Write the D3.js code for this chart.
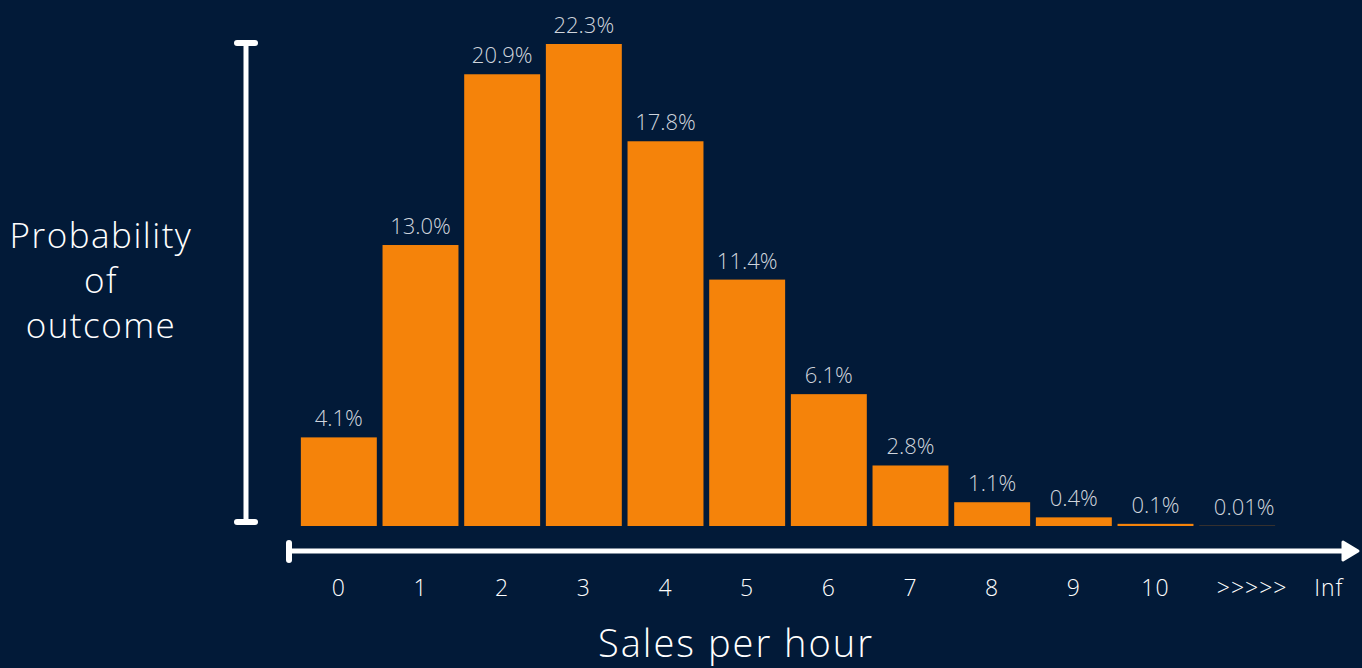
<!DOCTYPE html>
<html>
<head>
<meta charset="utf-8">
<script src="https://cdn.jsdelivr.net/npm/d3@7"></script>
<style>
  html, body { margin: 0; padding: 0; background: #021a38; }
  svg { display: block; }
</style>
</head>
<body>
<svg id="chart" width="1362" height="668"></svg>
<script>
// Poisson-style distribution of sales per hour
const categories = ["0", "1", "2", "3", "4", "5", "6", "7", "8", "9", "10", ">10"];
const probabilities = [4.1, 13.0, 20.9, 22.3, 17.8, 11.4, 6.1, 2.8, 1.1, 0.4, 0.1, 0.01];
const valueLabels = ["4.1%", "13.0%", "20.9%", "22.3%", "17.8%", "11.4%", "6.1%", "2.8%", "1.1%", "0.4%", "0.1%", "0.01%"];
const tickLabels = ["0", "1", "2", "3", "4", "5", "6", "7", "8", "9", "10", ">>>>>", "Inf"];
const yTitleLines = ["Probability", "of", "outcome"];
const xTitle = "Sales per hour";

const W = 1362, H = 668;
const bg = "#021a38", barColor = "#f5830a", labelColor = "#cfd4dc", axisColor = "#ffffff";
const handFont = "'Open Sans', 'DejaVu Sans', sans-serif";

const svg = d3.select("#chart");
svg.append("rect").attr("width", W).attr("height", H).attr("fill", bg);

const x = d3.scaleBand().domain(categories).range([298, 1278]).paddingInner(0.07).paddingOuter(0.035);
const y = d3.scaleLinear().domain([0, 22.3]).range([526, 44]);

// tick positions: numeric ticks sit under the bars, then the tail marker and infinity
const tickX = d3.scalePoint().domain(tickLabels).range([x("0") + x.bandwidth() / 2, x(">10") + x.bandwidth() / 2 + x.step()]);

// bars
svg.append("g").selectAll("rect").data(probabilities).join("rect")
  .attr("x", (d, i) => x(categories[i]))
  .attr("y", d => y(d))
  .attr("width", x.bandwidth())
  .attr("height", d => y(0) - y(d))
  .attr("fill", barColor);

// value labels
svg.append("g").selectAll("text").data(probabilities).join("text")
  .attr("x", (d, i) => x(categories[i]) + x.bandwidth() / 2 + (i === 11 ? 7 : 0))
  .attr("y", d => y(d) - 11)
  .attr("text-anchor", "middle")
  .attr("fill", labelColor)
  .attr("font-family", "'Open Sans', sans-serif")
  .attr("font-weight", 300)
  .attr("font-size", 22)
  .text((d, i) => valueLabels[i]);

// y axis: vertical bar with end caps
const yAxis = svg.append("g").attr("stroke", axisColor).attr("stroke-linecap", "round");
yAxis.append("line").attr("x1", 246).attr("x2", 246).attr("y1", y(22.3) - 1).attr("y2", y(0) - 4).attr("stroke-width", 5);
[y(22.3) - 1, y(0) - 4].forEach(yy => {
  yAxis.append("line").attr("x1", 237).attr("x2", 255).attr("y1", yy).attr("y2", yy).attr("stroke-width", 6);
});

// x axis: arrow from the left cap to infinity
const axY = 551;
const xAxis = svg.append("g");
xAxis.append("line").attr("x1", 289).attr("x2", 1346).attr("y1", axY).attr("y2", axY)
  .attr("stroke", axisColor).attr("stroke-width", 5);
xAxis.append("line").attr("x1", 289).attr("x2", 289).attr("y1", axY - 8).attr("y2", axY + 9)
  .attr("stroke", axisColor).attr("stroke-width", 6).attr("stroke-linecap", "round");
xAxis.append("path")
  .attr("d", `M1343,${axY - 9} L1358,${axY} L1343,${axY + 9} Z`)
  .attr("fill", axisColor).attr("stroke", axisColor).attr("stroke-width", 3).attr("stroke-linejoin", "round");

// tick labels
svg.append("g").selectAll("text").data(tickLabels).join("text")
  .attr("x", (d, i) => tickX(d) + (i === 11 ? 15 : i === 12 ? 10 : 0))
  .attr("y", 596)
  .attr("text-anchor", "middle")
  .attr("fill", axisColor)
  .attr("font-family", handFont)
  .attr("font-weight", 300)
  .attr("font-size", 23)
  .attr("letter-spacing", 1)
  .text(d => d);

// axis titles
svg.append("g").selectAll("text").data(yTitleLines).join("text")
  .attr("x", 101)
  .attr("y", (d, i) => 248 + i * 45)
  .attr("text-anchor", "middle")
  .attr("fill", axisColor)
  .attr("font-family", handFont)
  .attr("font-weight", 300)
  .attr("font-size", 35)
  .attr("letter-spacing", 1.5)
  .text(d => d);

svg.append("text")
  .attr("x", 736).attr("y", 657)
  .attr("text-anchor", "middle")
  .attr("fill", axisColor)
  .attr("font-family", handFont)
  .attr("font-weight", 300)
  .attr("font-size", 38)
  .attr("letter-spacing", 2)
  .text(xTitle);
</script>
</body>
</html>
